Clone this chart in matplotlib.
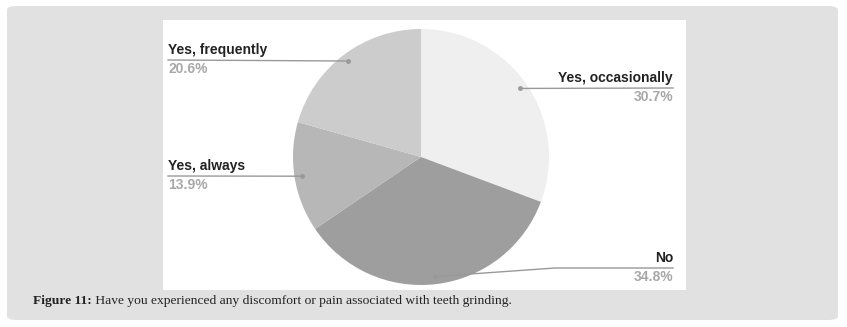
import numpy as np
import matplotlib.pyplot as plt
from matplotlib.patches import FancyBboxPatch, Rectangle

# 데이터
labels = ["Yes, occasionally", "No", "Yes, always", "Yes, frequently"]
shares = [30.7, 34.8, 13.9, 20.6]
colors = ["#efefef", "#9e9e9e", "#b7b7b7", "#cccccc"]
caption_bold = "Figure 11:"
caption_text = " Have you experienced any discomfort or pain associated with teeth grinding."

W, H = 847, 327
fig = plt.figure(figsize=(W / 100, H / 100), dpi=100)
fig.patch.set_facecolor("white")

def fx(px): return px / W
def fy(py): return 1 - py / H

## 바깥 회색 박스, 안쪽 흰 패널
fig.patches.append(FancyBboxPatch((fx(7), fy(320)), fx(831), 314 / H,
                                  boxstyle="round,pad=0,rounding_size=0.012",
                                  transform=fig.transFigure, facecolor="#e1e1e1",
                                  edgecolor="none", zorder=0))
fig.patches.append(Rectangle((fx(163), fy(290)), fx(523), 270 / H,
                             transform=fig.transFigure, facecolor="white",
                             edgecolor="none", zorder=1))

## 파이
cx, cy, R = 421, 157, 128
ax = fig.add_axes([fx(cx - R), fy(cy + R), 2 * R / W, 2 * R / H])
ax.set_zorder(2)
wedges, _ = ax.pie(shares, colors=colors, startangle=90, counterclock=False,
                   wedgeprops=dict(linewidth=0))
ax.set_xlim(-1, 1); ax.set_ylim(-1, 1)
ax.set_aspect("auto")
ax.axis("off")

## 라벨 (선 끝 위치: 픽셀)
line_c = "#999999"
label_pos = {
    "Yes, occasionally": dict(x=673, y=88, ha="right"),
    "No": dict(x=673, y=268, ha="right", knee=555),
    "Yes, always": dict(x=168, y=176, ha="left"),
    "Yes, frequently": dict(x=168, y=60, ha="left"),
}
start = 90.0
for lab, s in zip(labels, shares):
    sweep = s / 100 * 360
    mid = np.deg2rad(start - sweep / 2)
    start -= sweep
    px = cx + 0.94 * R * np.cos(mid)
    py = cy - 0.94 * R * np.sin(mid)
    p = label_pos[lab]
    if "knee" in p:
        xs = [px, p["knee"], p["x"]]
        ys = [py, p["y"], p["y"]]
    else:
        xs = [px, p["x"]]
        ys = [py, p["y"]]
    fig.add_artist(plt.Line2D([fx(v) for v in xs], [fy(v) for v in ys],
                              transform=fig.transFigure, color=line_c, lw=1, zorder=3))
    fig.add_artist(plt.Line2D([fx(px)], [fy(py)], transform=fig.transFigure,
                              marker="o", ms=2.5, color=line_c, zorder=3))
    fig.text(fx(p["x"]), fy(p["y"] - 3), lab, ha=p["ha"], va="bottom",
             fontsize=10, fontweight="bold", color="#222222",
             family="Liberation Sans", zorder=4)
    fig.text(fx(p["x"]), fy(p["y"] + 2), f"{s}%", ha=p["ha"], va="top",
             fontsize=10, fontweight="bold", color="#a8a8a8",
             family="Liberation Sans", zorder=4)

## 캡션
t = fig.text(fx(33), fy(301), caption_bold, ha="left", va="center",
             fontsize=9.7, fontweight="bold", family="Liberation Serif", color="#222222")
fig.canvas.draw()
bb = t.get_window_extent()
fig.text(bb.x1 / W, fy(301), caption_text, ha="left", va="center",
         fontsize=9.7, family="Liberation Serif", color="#222222")

fig.savefig("out.png", dpi=100)
